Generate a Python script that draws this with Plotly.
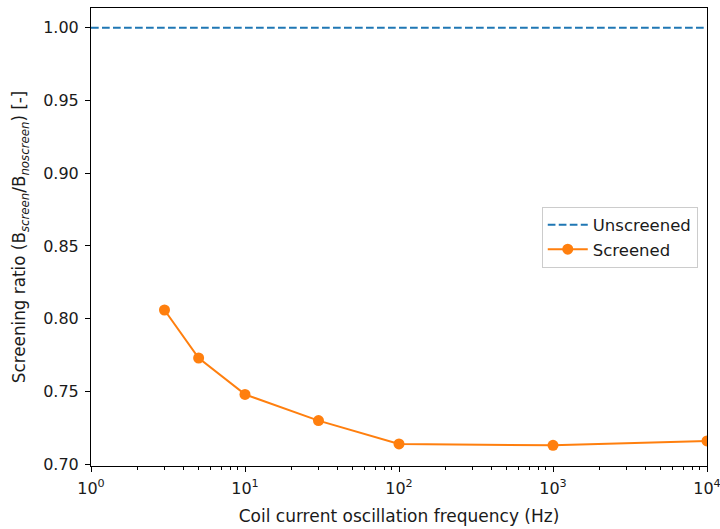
import plotly.graph_objects as go

# Measured screening ratio versus coil current frequency
freq_hz = [3, 5, 10, 30, 100, 1000, 10000]
ratio_screened = [0.806, 0.773, 0.748, 0.730, 0.714, 0.713, 0.716]

# Reference (no screen) level
freq_ref = [1, 10000]
ratio_unscreened = [1.0, 1.0]

x_tick_vals = [1, 10, 100, 1000, 10000]
x_tick_text = ["10<sup>0</sup>", "10<sup>1</sup>", "10<sup>2</sup>", "10<sup>3</sup>", "10<sup>4</sup>"]
y_tick_vals = [0.70, 0.75, 0.80, 0.85, 0.90, 0.95, 1.00]

minor_vals = [m * 10 ** d for d in range(0, 4) for m in range(2, 10)]

blue = "#1f77b4"
orange = "#ff7f0e"
font_family = "DejaVu Sans"
text_color = "#1a1a1a"

fig = go.Figure()
fig.add_trace(go.Scatter(
    x=freq_ref, y=ratio_unscreened, mode="lines", name="Unscreened",
    line=dict(color=blue, width=2, dash="7.7px,3.3px"),
))
fig.add_trace(go.Scatter(
    x=freq_hz, y=ratio_screened, mode="lines+markers", name="Screened",
    line=dict(color=orange, width=2),
    marker=dict(color=orange, size=11),
))

axis_common = dict(
    showline=True, linecolor="black", linewidth=1, mirror=True,
    showgrid=False, zeroline=False, automargin=False,
    ticks="outside", ticklen=5, tickwidth=1, tickcolor="black",
    ticklabeloverflow="allow",
    tickfont=dict(family=font_family, size=16, color=text_color),
)

fig.update_layout(
    width=720, height=529,
    margin=dict(l=91, r=13, t=8, b=63),
    paper_bgcolor="white", plot_bgcolor="white",
    font=dict(family=font_family, size=16, color=text_color),
    showlegend=True,
    legend=dict(
        x=0.985, y=0.5, xanchor="right", yanchor="middle",
        bgcolor="rgba(255,255,255,0.8)", bordercolor="#cccccc", borderwidth=1,
        font=dict(family=font_family, size=16.5, color=text_color),
        itemwidth=40, tracegroupgap=4,
    ),
    annotations=[dict(
        text="Screening ratio (B<sub><i>screen</i></sub>/B<sub><i>noscreen</i></sub>) [-]",
        xref="paper", yref="paper", x=-0.115, y=0.5,
        xanchor="center", yanchor="middle", textangle=-90, showarrow=False,
        font=dict(family=font_family, size=16.8, color=text_color),
    )],
)

fig.update_xaxes(
    type="log", range=[0, 4],
    tickvals=x_tick_vals, ticktext=x_tick_text, ticklabelstandoff=3,
    minor=dict(ticks="outside", ticklen=3, tickwidth=1, tickcolor="black", tickvals=minor_vals, showgrid=False),
    title=dict(text="Coil current oscillation frequency (Hz)", standoff=12,
               font=dict(family=font_family, size=17, color=text_color)),
    **axis_common,
)
fig.update_yaxes(
    range=[0.6988, 1.0135],
    tickvals=y_tick_vals, tickformat=".2f", ticklabelstandoff=3,
    **axis_common,
)

fig.write_html("out.html")
